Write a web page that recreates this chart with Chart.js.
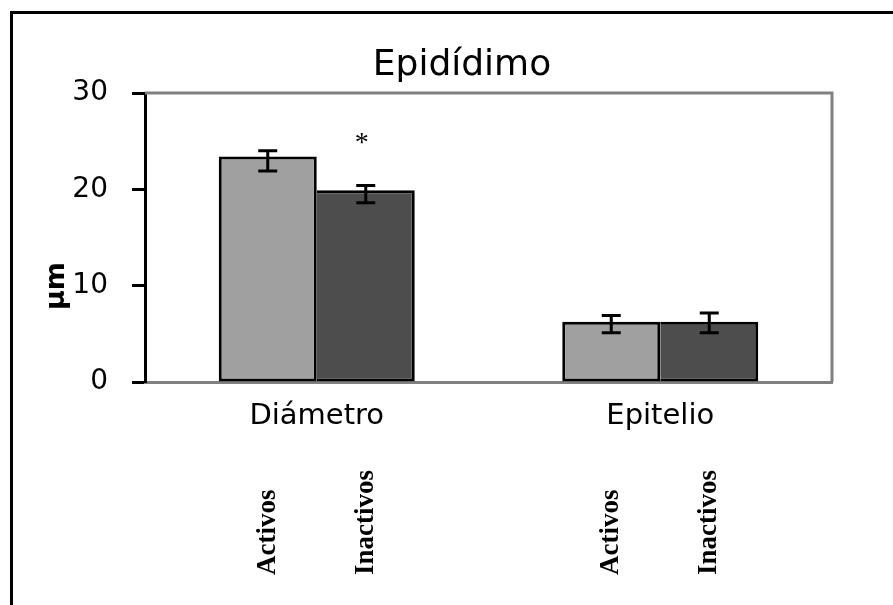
<!DOCTYPE html>
<html>
<head>
<meta charset="utf-8">
<script src="https://cdn.jsdelivr.net/npm/chart.js@4/dist/chart.umd.min.js"></script>
<style>
  html, body { margin: 0; padding: 0; background: #fff; }
  canvas { display: block; }
</style>
</head>
<body>
<canvas id="chart" width="893" height="605"></canvas>
<script>
// Epidídimo: tubular diameter and epithelium height (µm), active vs inactive
const chartTitle = 'Epidídimo';
const yAxisTitle = 'µm';
const categories = ['Diámetro', 'Epitelio'];
const seriesNames = ['Activos', 'Inactivos'];

const activos = [23.4, 6.25];
const inactivos = [19.9, 6.25];

// error bar ends (upper / lower) per category
const activosUpper = [24.0, 6.9];
const activosLower = [21.9, 5.1];
const inactivosUpper = [20.4, 7.15];
const inactivosLower = [18.6, 5.1];

// significance marks above each bar
const activosMarks = ['', ''];
const inactivosMarks = ['*', ''];

const yTicks = [0, 10, 20, 30];

const SANS = '"DejaVu Sans", Verdana, sans-serif';
const SERIF = '"Liberation Serif", "Times New Roman", serif';

const errorBounds = [
  { upper: activosUpper, lower: activosLower, marks: activosMarks },
  { upper: inactivosUpper, lower: inactivosLower, marks: inactivosMarks }
];

const decorPlugin = {
  id: 'decor',
  beforeDraw(chart) {
    const { ctx, width, height } = chart;
    ctx.save();
    ctx.fillStyle = '#ffffff';
    ctx.fillRect(0, 0, width, height);
    // outer frame (top and left edges)
    ctx.strokeStyle = '#000000';
    ctx.lineWidth = 3;
    ctx.beginPath();
    ctx.moveTo(11.5, height);
    ctx.lineTo(11.5, 12.5);
    ctx.lineTo(width, 12.5);
    ctx.stroke();
    ctx.restore();
  },
  beforeDatasetsDraw(chart) {
    const { ctx, chartArea: a } = chart;
    ctx.save();
    ctx.strokeStyle = '#808080';
    ctx.lineWidth = 3;
    ctx.beginPath();
    ctx.moveTo(a.left, a.top);
    ctx.lineTo(a.right, a.top);
    ctx.lineTo(a.right, a.bottom);
    ctx.stroke();
    ctx.restore();
  },
  afterDatasetsDraw(chart) {
    const { ctx } = chart;
    const yScale = chart.scales.y;
    ctx.save();
    // error bars
    ctx.strokeStyle = '#000000';
    ctx.lineWidth = 3;
    const cap = 9.5;
    chart.data.datasets.forEach((ds, i) => {
      const meta = chart.getDatasetMeta(i);
      const b = errorBounds[i];
      meta.data.forEach((bar, j) => {
        const x = bar.x;
        const yU = yScale.getPixelForValue(b.upper[j]);
        const yL = yScale.getPixelForValue(b.lower[j]);
        ctx.beginPath();
        ctx.moveTo(x, yU); ctx.lineTo(x, yL);
        ctx.moveTo(x - cap, yU); ctx.lineTo(x + cap, yU);
        ctx.moveTo(x - cap, yL); ctx.lineTo(x + cap, yL);
        ctx.stroke();
        if (b.marks[j]) {
          ctx.fillStyle = '#000000';
          ctx.font = '28px ' + SERIF;
          ctx.textAlign = 'center';
          ctx.textBaseline = 'alphabetic';
          ctx.fillText(b.marks[j], x - 4, yU - 34);
        }
      });
    });
    ctx.restore();
  },
  afterDraw(chart) {
    const { ctx } = chart;
    ctx.save();
    ctx.fillStyle = '#000000';
    // title
    ctx.font = '36px ' + SANS;
    ctx.textAlign = 'center';
    ctx.textBaseline = 'alphabetic';
    ctx.fillText(chartTitle, 462, 75);
    // y axis title
    ctx.save();
    ctx.translate(57, 286);
    ctx.rotate(-Math.PI / 2);
    ctx.font = 'bold 27px ' + SANS;
    ctx.textAlign = 'center';
    ctx.textBaseline = 'middle';
    ctx.fillText(yAxisTitle, 0, 0);
    ctx.restore();
    // series names under each bar
    ctx.font = 'bold 27px ' + SERIF;
    chart.data.datasets.forEach((ds, i) => {
      chart.getDatasetMeta(i).data.forEach((bar) => {
        ctx.save();
        ctx.translate(bar.x, 575);
        ctx.rotate(-Math.PI / 2);
        ctx.textAlign = 'left';
        ctx.textBaseline = 'middle';
        ctx.fillText(ds.label, 0, 0);
        ctx.restore();
      });
    });
    ctx.restore();
  }
};

new Chart(document.getElementById('chart'), {
  type: 'bar',
  data: {
    labels: categories,
    datasets: [
      {
        label: seriesNames[0],
        data: activos,
        backgroundColor: '#a0a0a0',
        borderColor: '#000000',
        borderWidth: { top: 3, left: 3, right: 3, bottom: 3 },
        borderSkipped: false
      },
      {
        label: seriesNames[1],
        data: inactivos,
        backgroundColor: '#4d4d4d',
        borderColor: '#000000',
        borderWidth: { top: 3, left: 0, right: 3, bottom: 3 },
        borderSkipped: false
      }
    ]
  },
  options: {
    responsive: false,
    animation: false,
    devicePixelRatio: 1,
    layout: { padding: { left: 0, top: 93, right: 61, bottom: 0 } },
    datasets: {
      bar: { categoryPercentage: 0.5706, barPercentage: 1.0 }
    },
    plugins: {
      legend: { display: false },
      title: { display: false },
      tooltip: { enabled: false }
    },
    scales: {
      x: {
        type: 'category',
        offset: true,
        grid: { display: false, drawTicks: false },
        border: { display: true, color: '#808080', width: 3 },
        ticks: {
          color: '#000000',
          font: { family: SANS, size: 29 },
          padding: 17,
          maxRotation: 0
        },
        afterFit(scale) { scale.height = 223; }
      },
      y: {
        min: 0,
        max: 30,
        afterBuildTicks(scale) { scale.ticks = yTicks.map(v => ({ value: v })); },
        grid: {
          drawOnChartArea: false,
          drawTicks: true,
          tickLength: 13,
          tickColor: '#000000',
          tickWidth: 3
        },
        border: { display: true, color: '#000000', width: 3 },
        ticks: {
          color: '#000000',
          font: { family: SANS, size: 28 },
          padding: 24
        },
        afterFit(scale) { scale.width = 145; }
      }
    }
  },
  plugins: [decorPlugin]
});
</script>
</body>
</html>
